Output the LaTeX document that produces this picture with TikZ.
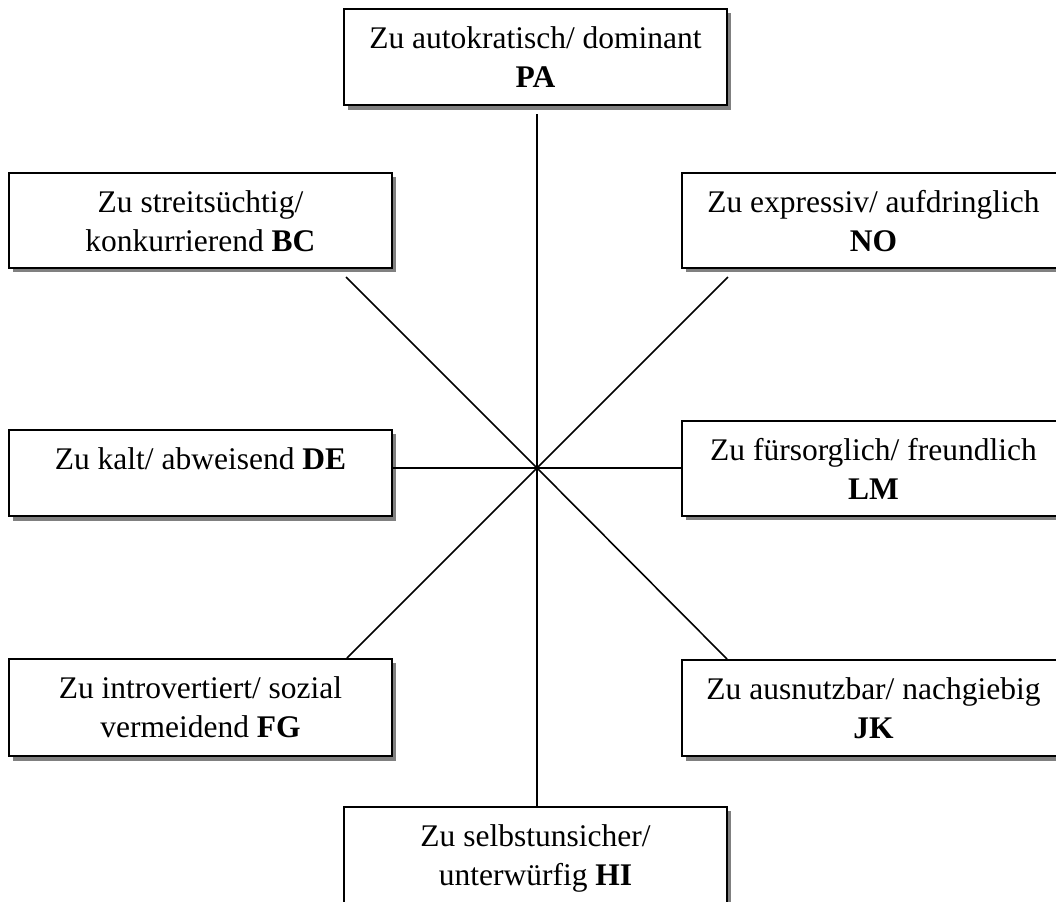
\documentclass[tikz,border=0pt]{standalone}
\usepackage{fontspec}
\setmainfont{Liberation Serif}
\usetikzlibrary{shadows}
\begin{document}
\begin{tikzpicture}[x=0.381pt, y=-0.381pt,
  box/.style={draw=black, line width=0.76pt, fill=white, minimum width=145.9pt,
    inner sep=0pt, anchor=north west,
    drop shadow={shadow xshift=1.7pt, shadow yshift=-1.7pt, fill=black!50, opacity=1}},
  txt/.style={anchor=north, inner sep=0pt, align=center, font=\fontsize{12}{14.86}\selectfont},
  conn/.style={line width=0.6pt, draw=black}]
\useasboundingbox (0,0) rectangle (1056,901);
\clip (0,0) rectangle (1056,901);
% centre and free ends of connectors
\coordinate (c) at (537,468);
\coordinate (vtop) at (537,114);
\coordinate (ul) at (346,277);
\coordinate (ur) at (728,277);
\coordinate (dl) at (347,658);
\coordinate (dr) at (727,659);
% boxes
\node[box, minimum height=36.6pt] (PA) at (343,8) {};
\node[box, minimum height=36.2pt] (BC) at (8,172) {};
\node[box, minimum height=36.2pt] (NO) at (681,172) {};
\node[box, minimum height=32.8pt] (DE) at (8,429) {};
\node[box, minimum height=36.2pt] (LM) at (681,420) {};
\node[box, minimum height=37.0pt] (FG) at (8,658) {};
\node[box, minimum height=36.6pt] (JK) at (681,659) {};
\node[box, minimum height=38.0pt] (HI) at (343,806) {};
% connectors
\draw[conn] (c) -- (vtop);
\draw[conn] (c) -- (c |- HI.north);
\draw[conn] (c -| DE.east) -- (c -| LM.west);
\draw[conn] (c) -- (ul);
\draw[conn] (c) -- (ur);
\draw[conn] (c) -- (dl);
\draw[conn] (c) -- (dr);
% texts
\node[txt] (PAt) at ([yshift=-6.9pt]PA.north) {Zu autokratisch/ dominant\\\textbf{PA}};
\node[txt] (BCt) at ([yshift=-6.9pt]BC.north) {Zu streitsüchtig/\\konkurrierend \textbf{BC}};
\node[txt] (NOt) at ([yshift=-6.9pt]NO.north) {Zu expressiv/ aufdringlich\\\textbf{NO}};
\node[txt] (DEt) at ([yshift=-6.9pt]DE.north) {Zu kalt/ abweisend \textbf{DE}};
\node[txt] (LMt) at ([yshift=-6.9pt]LM.north) {Zu fürsorglich/ freundlich\\\textbf{LM}};
\node[txt] (FGt) at ([yshift=-6.9pt]FG.north) {Zu introvertiert/ sozial\\vermeidend \textbf{FG}};
\node[txt] (JKt) at ([yshift=-6.9pt]JK.north) {Zu ausnutzbar/ nachgiebig\\\textbf{JK}};
\node[txt] (HIt) at ([yshift=-6.9pt]HI.north) {Zu selbstunsicher/\\unterwürfig \textbf{HI}};
\end{tikzpicture}
\end{document}
